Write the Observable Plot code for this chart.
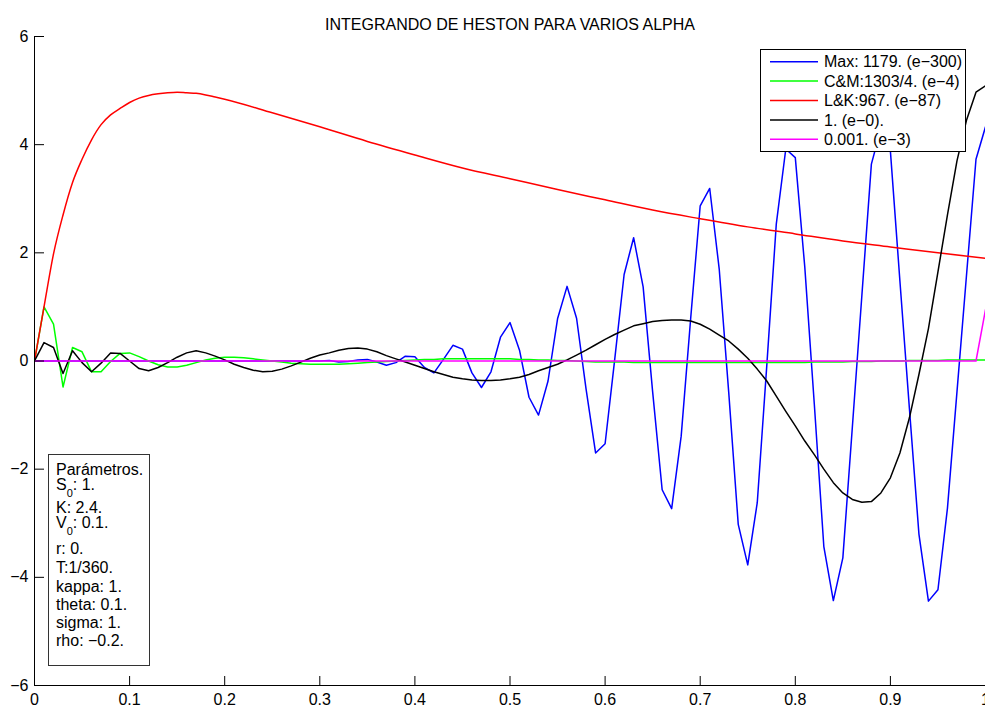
<!DOCTYPE html>
<html>
<head>
<meta charset="utf-8">
<script src="https://cdn.jsdelivr.net/npm/d3@7"></script>
<script src="https://cdn.jsdelivr.net/npm/@observablehq/plot@0.6"></script>
<style>
  html, body { margin: 0; padding: 0; background: #fff; }
  #chart svg { display: block; }
</style>
</head>
<body>
<div id="chart"></div>
<script>
const FONT = "'Liberation Sans', Arial, Helvetica, sans-serif";
const titleText = "INTEGRANDO DE HESTON PARA VARIOS ALPHA";

// x grid (step 0.01)
const xGrid = d3.range(0, 101).map(i => i / 100);

// Max: 1179. (e-300)  (blue)
const blueY = [
  0,0,0,0,0,0,0,0,0,0,
  0,0,0,0,0,0,0,0,0,0,
  0,0,0,0,0,0,0,0,0,0,
  0.0,0.01,-0.02,-0.01,0.02,0.03,-0.02,-0.08,-0.03,0.09,
  0.08,-0.12,-0.22,0.03,0.29,0.22,-0.22,-0.49,-0.2,0.44,
  0.71,0.2,-0.67,-1.0,-0.37,0.78,1.38,0.79,-0.52,-1.70,
  -1.53,0.01,1.6,2.28,1.37,-0.57,-2.38,-2.73,-1.39,0.79,
  2.87,3.19,1.70,-0.58,-3.02,-3.77,-2.62,-0.09,2.53,3.92,
  3.76,1.73,-0.8,-3.43,-4.43,-3.64,-1.22,1.21,3.64,4.3,
  3.88,1.48,-0.88,-3.2,-4.44,-4.23,-2.72,-0.57,1.58,3.73,
  4.33
];

// C&M:1303/4. (e-4)  (green)
const greenY = [
  0,1.0,0.68,-0.48,0.25,0.17,-0.2,-0.2,-0.01,0.14,
  0.15,0.08,0.0,-0.07,-0.11,-0.11,-0.08,-0.03,0.02,0.05,
  0.07,0.07,0.06,0.04,0.02,0.0,-0.02,-0.04,-0.05,-0.06,
  -0.06,-0.06,-0.06,-0.05,-0.04,-0.03,-0.02,-0.01,0.0,0.01,
  0.02,0.03,0.03,0.04,0.04,0.04,0.04,0.04,0.04,0.04,
  0.04,0.03,0.03,0.02,0.02,0.01,0.01,0.0,-0.01,-0.02,
  -0.02,-0.02,-0.02,-0.03,-0.03,-0.03,-0.03,-0.03,-0.03,-0.03,
  -0.03,-0.03,-0.03,-0.03,-0.03,-0.03,-0.03,-0.03,-0.03,-0.03,
  -0.03,-0.03,-0.02,-0.02,-0.02,-0.02,-0.01,-0.01,-0.01,0.0,
  0.0,0.0,0.01,0.01,0.01,0.01,0.02,0.02,0.02,0.02,
  0.02
];

// L&K:967. (e-87)  (red) - own x positions
const redX = [0,0.01,0.02,0.03,0.04,0.05,0.06,0.07,0.08,0.09,0.10,0.11,0.12,0.13,0.14,0.15,0.16,0.17,0.18,0.19,0.20,
  0.25,0.30,0.35,0.40,0.45,0.50,0.55,0.60,0.65,0.70,0.75,0.80,0.85,0.90,0.95,1.0];
const redY = [0,1.0,1.98,2.7,3.3,3.73,4.09,4.37,4.55,4.67,4.78,4.86,4.91,4.94,4.96,4.97,4.96,4.95,4.92,4.88,4.84,
  4.59,4.33,4.06,3.81,3.57,3.37,3.17,2.98,2.79,2.63,2.48,2.35,2.22,2.11,2.0,1.9];

// 1. (e-0).  (black)
const blackY = [
  0,0.34,0.25,-0.23,0.19,-0.03,-0.2,-0.04,0.15,0.14,
  0.0,-0.14,-0.18,-0.12,-0.03,0.07,0.15,0.19,0.15,0.09,
  0.02,-0.06,-0.12,-0.17,-0.2,-0.19,-0.15,-0.09,-0.02,0.05,
  0.11,0.15,0.2,0.23,0.24,0.22,0.17,0.1,0.04,-0.02,
  -0.08,-0.14,-0.2,-0.25,-0.3,-0.33,-0.35,-0.36,-0.36,-0.35,
  -0.33,-0.3,-0.25,-0.18,-0.12,-0.06,0.02,0.11,0.2,0.3,
  0.4,0.49,0.57,0.65,0.69,0.73,0.75,0.76,0.76,0.74,
  0.68,0.59,0.48,0.37,0.22,0.05,-0.15,-0.37,-0.65,-0.93,
  -1.2,-1.48,-1.73,-2.0,-2.25,-2.44,-2.56,-2.61,-2.6,-2.44,
  -2.16,-1.7,-1.05,-0.25,0.6,1.65,2.7,3.7,4.45,4.97,
  5.09
];

// 0.001. (e-3)  (magenta)
const magentaY = [
  0,0,0,0,0,0,0,0,0,0, 0,0,0,0,0,0,0,0,0,0,
  0,0,0,0,0,0,0,0,0,0, 0,0,0,0,0,0,0,0,0,0,
  0,0,0,0,0,0,0,0,0,0, 0,0,0,0,0,0,0,0,0,0,
  0,0,0,0,0,0,0,0,0,0, 0,0,0,0,0,0,0,0,0,0,
  0,0,0,0,0,0,0,0,0,0, 0,0,0,0,0,0,0,0,0,0,
  0.95
];

const seriesNames = ["Max: 1179. (e\u2212300)", "C&M:1303/4. (e\u22124)", "L&K:967. (e\u221287)", "1. (e\u22120).", "0.001. (e\u22123)"];
const seriesColors = ["#0000ff", "#00ff00", "#ff0000", "#000000", "#ff00ff"];

const xTicks = [0,0.1,0.2,0.3,0.4,0.5,0.6,0.7,0.8,0.9,1];
const xTickLabels = ["0","0.1","0.2","0.3","0.4","0.5","0.6","0.7","0.8","0.9","1"];
const yTicks = [-6,-4,-2,0,2,4,6];
const yTickLabels = ["\u22126","\u22124","\u22122","0","2","4","6"];

const paramLines = [
  ["Par\u00e1metros.", null, ""],
  ["S", "0", ": 1."],
  ["K: 2.4.", null, ""],
  ["V", "0", ": 0.1."],
  ["r: 0.", null, ""],
  ["T:1/360.", null, ""],
  ["kappa: 1.", null, ""],
  ["theta: 0.1.", null, ""],
  ["sigma: 1.", null, ""],
  ["rho: \u22120.2.", null, ""]
];

const W = 985, H = 708, mL = 34, mR = 0, mT = 36, mB = 23;
const frameH = H - mT - mB, frameW = W - mL - mR;

const toRows = (xs, ys) => xs.map((x, i) => ({x, y: ys[i]}));
const seriesRows = [
  toRows(xGrid, blueY),
  toRows(xGrid, greenY),
  toRows(redX, redY),
  toRows(xGrid, blackY),
  toRows(xGrid, magentaY)
];

const chart = Plot.plot({
  width: W, height: H,
  marginLeft: mL, marginRight: mR, marginTop: mT, marginBottom: mB,
  style: {fontFamily: FONT, fontSize: "16px", color: "#000", background: "#fff"},
  x: {domain: [0, 1]},
  y: {domain: [-6, 6]},
  marks: [
    ...seriesRows.map((rows, k) => Plot.line(rows, {
      x: "x", y: "y", stroke: seriesColors[k], strokeWidth: 1.5,
      curve: k === 2 ? "monotone-x" : "linear", clip: true
    })),
    Plot.ruleX([0], {stroke: "#000", strokeWidth: 1}),
    Plot.ruleY([-6], {stroke: "#000", strokeWidth: 1}),
    Plot.tickX(xTicks, {x: d => d, insetTop: frameH - 9, stroke: "#000"}),
    Plot.tickY(yTicks, {y: d => d, insetRight: frameW - 10, stroke: "#000"}),
    Plot.axisX(xTicks, {tickSize: 0, tickPadding: 8, tickFormat: (d, i) => xTickLabels[i], fontSize: 16, fill: "#000", label: null}),
    Plot.axisY(yTicks, {tickSize: 0, tickPadding: 6, tickFormat: (d, i) => yTickLabels[i], fontSize: 16, fill: "#000", label: null}),
    Plot.text([titleText], {frameAnchor: "top", dy: -18, fontSize: 16, fill: "#000"})
  ]
});

document.getElementById("chart").appendChild(chart);

// Legend box (top right)
const svg = d3.select(chart);
const lg = svg.append("g").attr("font-family", FONT).attr("font-size", 16).attr("text-anchor", "start");
lg.append("rect").attr("x", 760.5).attr("y", 49.5).attr("width", 205).attr("height", 102)
  .attr("fill", "#fff").attr("stroke", "#000").attr("stroke-width", 1);
seriesNames.forEach((name, i) => {
  const y = 61.7 + i * 19.4;
  lg.append("line").attr("x1", 770).attr("x2", 818).attr("y1", y).attr("y2", y)
    .attr("stroke", seriesColors[i]).attr("stroke-width", 1.5);
  lg.append("text").attr("x", 824).attr("y", y).attr("dy", "0.36em").attr("fill", "#000")
    .attr("text-anchor", "start").text(name);
});

// Parameter box (bottom left)
const pg = svg.append("g").attr("font-family", FONT).attr("font-size", 16).attr("text-anchor", "start");
pg.append("rect").attr("x", 48.5).attr("y", 454.5).attr("width", 101).attr("height", 211)
  .attr("fill", "#fff").attr("stroke", "#333").attr("stroke-width", 1);
const baselines = [475, 490, 513, 528, 554, 573, 592, 610, 628, 646];
paramLines.forEach((p, i) => {
  const t = pg.append("text").attr("x", 56).attr("y", baselines[i]).attr("fill", "#000")
    .attr("text-anchor", "start");
  t.append("tspan").text(p[0]);
  if (p[1] !== null) {
    t.append("tspan").attr("dy", 7).attr("font-size", 11).text(p[1]);
    t.append("tspan").attr("dy", -7).text(p[2]);
  }
});
</script>
</body>
</html>
